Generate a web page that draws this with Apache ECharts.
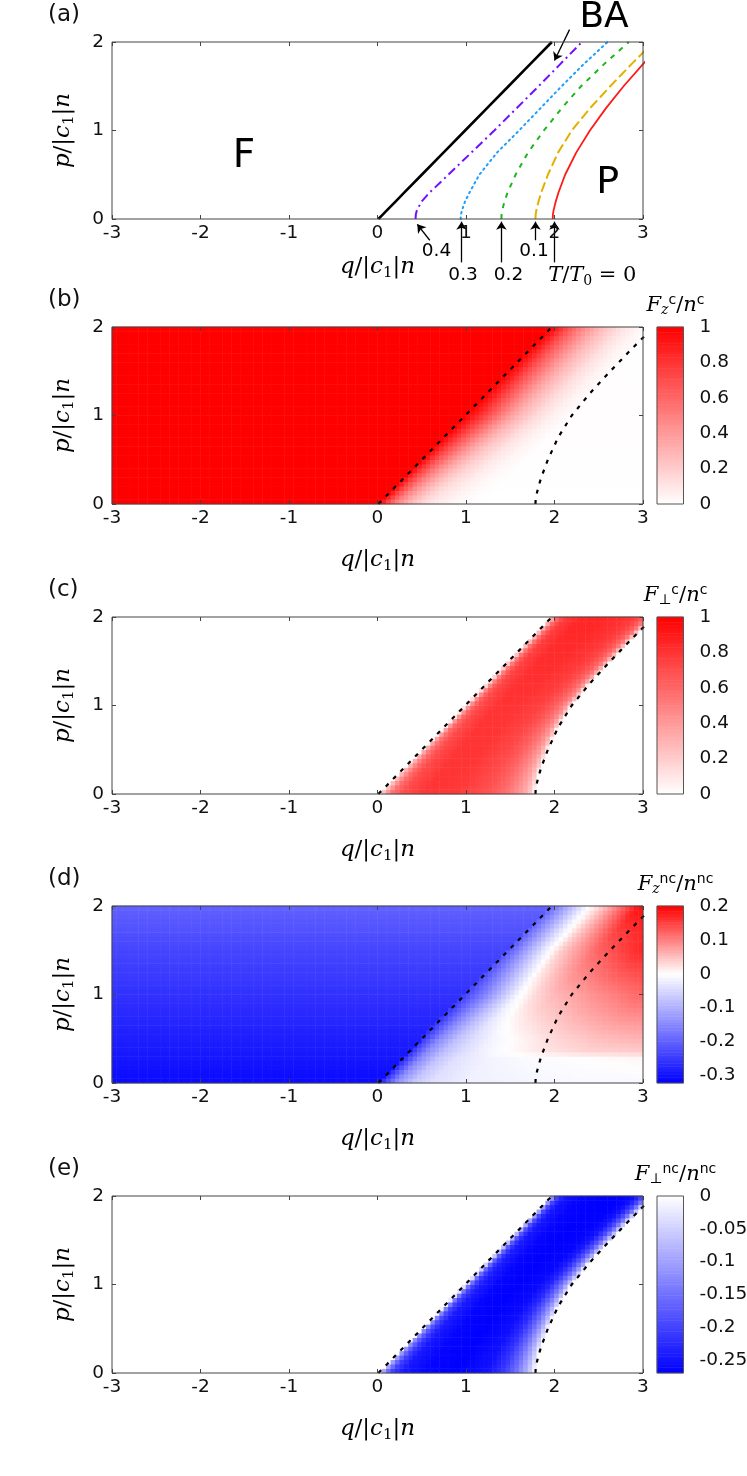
<!DOCTYPE html>
<html>
<head>
<meta charset="utf-8">
<script src="https://cdn.jsdelivr.net/npm/echarts@6/dist/echarts.min.js"></script>
<style>
  html, body { margin: 0; padding: 0; background: #fff; }
  #phaseChart { width: 747px; height: 1476px; }
</style>
</head>
<body>
<div id="phaseChart"></div>
<script>
// ---------------- data ----------------
// p/|c1|n levels where the phase boundaries were read
const pLevels = [0, 0.05, 0.1, 0.2, 0.3, 0.5, 0.75, 1, 1.25, 1.5, 1.75, 2];
// F-BA boundary (black line / left dashed line)
const qFBA    = [0.01, 0.059, 0.108, 0.206, 0.304, 0.50, 0.745, 0.99, 1.235, 1.48, 1.725, 1.97];
// BA-P boundary for T/T0 = 0, 0.1, 0.2, 0.3, 0.4
const qBP_T0  = [1.98, 1.982, 1.99, 2.015, 2.045, 2.12, 2.245, 2.40, 2.58, 2.78, 3.00, 3.23];
const qBP_T01 = [1.785, 1.787, 1.795, 1.82, 1.85, 1.925, 2.04, 2.195, 2.40, 2.63, 2.87, 3.12];
const qBP_T02 = [1.40, 1.402, 1.41, 1.435, 1.47, 1.56, 1.70, 1.88, 2.08, 2.30, 2.56, 2.84];
const qBP_T03 = [0.94, 0.943, 0.955, 0.99, 1.04, 1.15, 1.35, 1.60, 1.84, 2.08, 2.33, 2.60];
const qBP_T04 = [0.43, 0.433, 0.445, 0.50, 0.59, 0.80, 1.06, 1.32, 1.57, 1.82, 2.065, 2.31];

// panel (b): Fz^c/n^c vs distance d = q - qFBA, rows at p
const fzcRowsP = [0, 1, 2];
const fzcCols  = [0, 0.1, 0.2, 0.3, 0.4, 0.5, 0.6, 0.8, 1.0, 1.2];
const fzcF     = [1, 1, 1];
const fzcRows  = [
  [1, 0.70, 0.48, 0.33, 0.22, 0.14, 0.09, 0.04, 0.01, 0],
  [1, 0.90, 0.78, 0.65, 0.52, 0.40, 0.30, 0.15, 0.06, 0.01],
  [1, 0.85, 0.68, 0.55, 0.44, 0.34, 0.25, 0.12, 0.04, 0]
];

// panels (c) and (e): value vs fraction s of the BA band width
const bandRowsP = [0, 1, 2];
const bandCols  = [0, 0.03, 0.08, 0.15, 0.3, 0.5, 0.7, 0.8, 0.88, 0.94, 0.98, 1];
const fpcRows = [
  [0, 0.30, 0.55, 0.70, 0.80, 0.78, 0.68, 0.58, 0.45, 0.33, 0.18, 0],
  [0, 0.35, 0.60, 0.72, 0.80, 0.80, 0.75, 0.68, 0.58, 0.45, 0.25, 0],
  [0, 0.40, 0.65, 0.78, 0.85, 0.85, 0.82, 0.78, 0.70, 0.55, 0.30, 0]
];
const fpncRows = [
  [0, -0.12, -0.20, -0.245, -0.265, -0.27, -0.25, -0.21, -0.15, -0.09, -0.04, 0],
  [0, -0.12, -0.20, -0.24, -0.265, -0.27, -0.26, -0.23, -0.17, -0.11, -0.05, 0],
  [0, -0.14, -0.22, -0.25, -0.265, -0.27, -0.27, -0.26, -0.22, -0.15, -0.07, 0]
];

// panel (d): Fz^nc/n^nc vs distance d = q - qFBA, rows at p
const fzncRowsP = [0, 0.28, 0.36, 0.5, 1, 1.5, 2];
const fzncCols  = [0, 0.2, 0.4, 0.6, 0.8, 1.0, 1.5, 2.0, 2.5, 3.0];
const fzncF     = [-0.31, -0.295, -0.29, -0.285, -0.26, -0.235, -0.20];
const fzncRows  = [
  [-0.29, -0.14, -0.07, -0.04, -0.03, -0.02, -0.015, -0.01, -0.01, -0.01],
  [-0.28, -0.15, -0.075, -0.04, -0.025, -0.015, -0.005, 0.0, 0.005, 0.01],
  [-0.275, -0.15, -0.08, -0.045, -0.02, -0.005, 0.02, 0.035, 0.04, 0.045],
  [-0.26, -0.15, -0.08, -0.04, -0.015, 0.0, 0.03, 0.05, 0.06, 0.065],
  [-0.24, -0.17, -0.09, -0.01, 0.03, 0.055, 0.09, 0.12, 0.13, 0.14],
  [-0.21, -0.12, -0.03, 0.04, 0.08, 0.12, 0.17, 0.19, 0.20, 0.20],
  [-0.19, -0.10, -0.01, 0.05, 0.12, 0.19, 0.20, 0.20, 0.20, 0.20]
];

// colour bar ranges
const cbRanges = [[0, 1], [0, 1], [-0.3225, 0.2], [-0.27, 0]];

// annotation texts of panel (a)
const tempNames = ['0.4', '0.3', '0.2', '0.1'];
const tempNamePos = [[0.667, -0.364], [0.967, -0.635], [1.48, -0.635], [1.768, -0.364]];

// ---------------- helpers ----------------
function interp(xs, ys, x) {
  if (x <= xs[0]) return ys[0];
  for (let k = 1; k < xs.length; k++) {
    if (x <= xs[k]) {
      const t = (x - xs[k - 1]) / (xs[k] - xs[k - 1]);
      return ys[k - 1] + t * (ys[k] - ys[k - 1]);
    }
  }
  return ys[ys.length - 1];
}
function tableAt(rowsP, cols, rows, p, c) {
  const perRow = rows.map(r => interp(cols, r, c));
  return interp(rowsP, perRow, p);
}
const pairs = (qs) => qs.map((q, k) => [q, pLevels[k]]);

// heat map cells, 0.05 wide
const qCells = [];
for (let i = 0; i < 120; i++) qCells.push((-3 + 0.05 * (i + 0.5)).toFixed(3));
const pCells = [];
for (let j = 0; j < 40; j++) pCells.push((0.05 * (j + 0.5)).toFixed(3));

function buildField(spec) {
  const out = [];
  pCells.forEach((ps, j) => {
    const p = +ps;
    const qL = interp(pLevels, qFBA, p);
    const qR = interp(pLevels, qBP_T01, p);
    qCells.forEach((qs, i) => {
      const q = +qs;
      let v;
      if (q < qL) {
        v = spec.fSide ? interp(spec.rowsP, spec.fSide, p) : 0;
      } else {
        const c = spec.byDistance ? q - qL : (q - qL) / (qR - qL);
        v = tableAt(spec.rowsP, spec.cols, spec.rows, p, c);
      }
      out.push([i, j, +v.toFixed(4)]);
    });
  });
  return out;
}

function ramp(stops, n) {
  const out = [];
  for (let k = 0; k < n; k++) {
    const t = k / (n - 1);
    let a = stops[0], b = stops[stops.length - 1];
    for (let s = 1; s < stops.length; s++) {
      if (t <= stops[s][0]) { a = stops[s - 1]; b = stops[s]; break; }
    }
    const f = (t - a[0]) / (b[0] - a[0] || 1);
    const c = a[1].map((x, m) => Math.round(x + f * (b[1][m] - x)));
    out.push('rgb(' + c.join(',') + ')');
  }
  return out;
}
const WHITE = [255, 255, 255], RED = [255, 0, 0], BLUE = [0, 0, 255];
const palettes = [
  ramp([[0, WHITE], [1, RED]], 64),
  ramp([[0, WHITE], [1, RED]], 64),
  ramp([[0, BLUE], [0.3225 / 0.5225, WHITE], [1, RED]], 96),
  ramp([[0, BLUE], [1, WHITE]], 64)
];

// ---------------- layout ----------------
const PLOT_LEFT = 112, PLOT_WIDTH = 531, PLOT_HEIGHT = 177;
const panelTops = [42, 327, 617, 906, 1196];
const CB_LEFT = 657, CB_WIDTH = 26.5;
const sans = 'DejaVu Sans', serif = 'DejaVu Serif';
const ink = '#000';

const mathRich = {
  i: { fontFamily: serif, fontStyle: 'italic', fontSize: 23, lineHeight: 28, color: ink },
  r: { fontFamily: serif, fontSize: 23, lineHeight: 28, color: ink },
  sb: { fontFamily: serif, fontSize: 15, lineHeight: 15, verticalAlign: 'bottom', color: ink }
};
const cbRich = {
  i: { fontFamily: serif, fontStyle: 'italic', fontSize: 21, lineHeight: 24, color: ink },
  r: { fontFamily: serif, fontSize: 21, lineHeight: 24, color: ink },
  sb: { fontFamily: serif, fontStyle: 'italic', fontSize: 14, lineHeight: 12, verticalAlign: 'bottom', color: ink },
  sp: { fontFamily: sans, fontSize: 14, lineHeight: 11, verticalAlign: 'top', color: ink }
};
const qName = '{i|q}{r|/|}{i|c}{sb|1}{r||}{i|n}';
const pName = '{i|p}{r|/|}{i|c}{sb|1}{r||}{i|n}';
const cbNames = [
  '{i|F}{sb|z}{sp|c}{r|/}{i|n}{sp|c}',
  '{i|F}{sb|⊥}{sp|c}{r|/}{i|n}{sp|c}',
  '{i|F}{sb|z}{sp|nc}{r|/}{i|n}{sp|nc}',
  '{i|F}{sb|⊥}{sp|nc}{r|/}{i|n}{sp|nc}'
];
const tickLabel = { fontFamily: sans, fontSize: 18.5, color: '#111' };

const grids = [], xAxes = [], yAxes = [], series = [], visualMaps = [], titles = [];

function addPlotGrid(top, xNameGap) {
  const g = grids.length;
  grids.push({
    left: PLOT_LEFT, top: top, width: PLOT_WIDTH, height: PLOT_HEIGHT,
    show: true, borderColor: '#444', borderWidth: 1, z: 5,
    backgroundColor: 'transparent', containLabel: false, outerBoundsMode: 'none'
  });
  const xi = xAxes.length;
  xAxes.push({
    gridIndex: g, type: 'value', min: -3, max: 3, interval: 1, position: 'bottom', z: 6,
    name: qName, nameLocation: 'middle', nameGap: xNameGap, nameTextStyle: { rich: mathRich },
    axisLine: { show: false, onZero: false },
    axisTick: { inside: true, length: 4, lineStyle: { color: '#444' } },
    axisLabel: Object.assign({ margin: 5 }, tickLabel),
    splitLine: { show: false }
  });
  xAxes.push({
    gridIndex: g, type: 'value', min: -3, max: 3, interval: 1, position: 'top', z: 6,
    axisLine: { show: false, onZero: false },
    axisTick: { inside: true, length: 4, lineStyle: { color: '#444' } },
    axisLabel: { show: false }, splitLine: { show: false }
  });
  const yi = yAxes.length;
  yAxes.push({
    gridIndex: g, type: 'value', min: 0, max: 2, interval: 1, position: 'left', z: 6,
    name: pName, nameLocation: 'middle', nameGap: 35, nameTextStyle: { rich: mathRich },
    axisLine: { show: false, onZero: false },
    axisTick: { inside: true, length: 4, lineStyle: { color: '#444' } },
    axisLabel: Object.assign({ margin: 8 }, tickLabel),
    splitLine: { show: false }
  });
  yAxes.push({
    gridIndex: g, type: 'value', min: 0, max: 2, interval: 1, position: 'right', z: 6,
    axisLine: { show: false, onZero: false },
    axisTick: { inside: true, length: 4, lineStyle: { color: '#444' } },
    axisLabel: { show: false }, splitLine: { show: false }
  });
  return { g: g, x: xi, y: yi };
}

function boundaryLine(ax, qs, style) {
  return {
    type: 'line', xAxisIndex: ax.x, yAxisIndex: ax.y, data: pairs(qs),
    showSymbol: false, symbol: 'none', smooth: false, z: 3, silent: true,
    lineStyle: style
  };
}

// ---------------- panel (a) ----------------
const axA = addPlotGrid(panelTops[0], 34);
titles.push({ text: '(a)', left: 48, top: 4 });
series.push(boundaryLine(axA, qFBA, { color: '#000', width: 2.6, type: 'solid' }));
series.push(boundaryLine(axA, qBP_T0, { color: '#ff1a1a', width: 1.8, type: 'solid' }));
series.push(boundaryLine(axA, qBP_T01, { color: '#e3b000', width: 2, type: [10, 4] }));
series.push(boundaryLine(axA, qBP_T02, { color: '#1fb51f', width: 2, type: [5, 6] }));
series.push(boundaryLine(axA, qBP_T03, { color: '#1e9fff', width: 2, type: [1.5, 4], cap: 'round' }));
series.push(boundaryLine(axA, qBP_T04, { color: '#6f10ff', width: 2, type: [9, 4, 2, 4] }));

const bigLabel = (txt, size) => ({
  formatter: txt, fontSize: size, fontFamily: sans, color: '#000', opacity: 1,
  textBorderWidth: 0, textBorderColor: 'transparent'
});
const annot = [
  { value: [-1.51, 0.70], label: bigLabel('F', 39) },
  { value: [2.6, 0.41], label: bigLabel('P', 38) },
  { value: [2.56, 2.28], label: bigLabel('BA', 36) }
];
tempNames.forEach((t, k) => annot.push({ value: tempNamePos[k], label: bigLabel(t, 18.5) }));
annot.push({
  value: [2.427, -0.635],
  label: {
    formatter: '{i|T}{r|/}{i|T}{sb|0}{r| = 0}',
    color: '#000',
    rich: {
      i: { fontFamily: serif, fontStyle: 'italic', fontSize: 21, lineHeight: 26, color: ink },
      r: { fontFamily: serif, fontSize: 21, lineHeight: 26, color: ink },
      sb: { fontFamily: serif, fontSize: 14, lineHeight: 14, verticalAlign: 'bottom', color: ink }
    }
  }
});
series.push({
  type: 'scatter', xAxisIndex: axA.x, yAxisIndex: axA.y, clip: false, silent: true,
  symbolSize: 1, itemStyle: { color: '#fff', opacity: 1 },
  label: { show: true, position: 'inside', fontFamily: sans, color: '#000' },
  data: annot, z: 4
});
series.push({
  type: 'lines', coordinateSystem: 'cartesian2d', xAxisIndex: axA.x, yAxisIndex: axA.y,
  clip: false, silent: true, symbol: ['none', 'arrow'], symbolSize: 8,
  lineStyle: { color: '#000', width: 1.3, opacity: 1 },
  data: [
    { coords: [[qBP_T04[0] + 0.16, -0.24], [qBP_T04[0] + 0.02, -0.06]] },
    { coords: [[qBP_T03[0] + 0.01, -0.49], [qBP_T03[0] + 0.01, -0.03]] },
    { coords: [[qBP_T02[0], -0.49], [qBP_T02[0], -0.03]] },
    { coords: [[qBP_T01[0], -0.24], [qBP_T01[0], -0.03]] },
    { coords: [[qBP_T0[0] + 0.02, -0.49], [qBP_T0[0] + 0.02, -0.03]] },
    { coords: [[2.17, 2.14], [2.0, 1.79]] }
  ],
  z: 4
});

// ---------------- panels (b)-(e) ----------------
const fields = [
  buildField({ byDistance: true, rowsP: fzcRowsP, cols: fzcCols, rows: fzcRows, fSide: fzcF }),
  buildField({ byDistance: false, rowsP: bandRowsP, cols: bandCols, rows: fpcRows }),
  buildField({ byDistance: true, rowsP: fzncRowsP, cols: fzncCols, rows: fzncRows, fSide: fzncF }),
  buildField({ byDistance: false, rowsP: bandRowsP, cols: bandCols, rows: fpncRows })
];
const panelLetters = ['(b)', '(c)', '(d)', '(e)'];
const dashStyle = { color: '#000', width: 2.2, type: [4, 6.5] };

fields.forEach((field, k) => {
  const top = panelTops[k + 1];
  const ax = addPlotGrid(top, 42);
  titles.push({ text: panelLetters[k], left: 48, top: top - 38 });

  // hidden category axes carrying the cells
  const cx = xAxes.length;
  xAxes.push({ gridIndex: ax.g, type: 'category', data: qCells, show: false, position: 'bottom' });
  const cy = yAxes.length;
  yAxes.push({ gridIndex: ax.g, type: 'category', data: pCells, show: false, position: 'left' });

  const heatIdx = series.length;
  series.push({
    type: 'heatmap', xAxisIndex: cx, yAxisIndex: cy, data: field,
    progressive: 0, silent: true, emphasis: { disabled: true }, z: 2
  });
  series.push(boundaryLine(ax, qFBA, dashStyle));
  series.push(boundaryLine(ax, qBP_T01, dashStyle));

  // colour bar
  const [vmin, vmax] = cbRanges[k];
  const cg = grids.length;
  grids.push({
    left: CB_LEFT, top: top, width: CB_WIDTH, height: PLOT_HEIGHT,
    show: true, borderColor: '#555', borderWidth: 1, z: 5,
    backgroundColor: 'transparent', containLabel: false, outerBoundsMode: 'none'
  });
  const levels = [], cbData = [];
  const N = 64;
  for (let m = 0; m < N; m++) {
    levels.push(m);
    cbData.push([0, m, vmin + (m + 0.5) * (vmax - vmin) / N]);
  }
  const cbx = xAxes.length;
  xAxes.push({ gridIndex: cg, type: 'category', data: [''], show: false });
  const cby = yAxes.length;
  yAxes.push({ gridIndex: cg, type: 'category', data: levels, show: false, position: 'left' });
  yAxes.push({
    gridIndex: cg, type: 'value', min: vmin, max: vmax, position: 'right', z: 6,
    name: cbNames[k], nameLocation: 'end', nameGap: 7,
    nameTextStyle: { rich: cbRich, padding: [0, 16, 0, 0] },
    axisLine: { show: false, onZero: false },
    axisTick: { inside: true, length: 4, lineStyle: { color: '#444' } },
    axisLabel: Object.assign({ margin: 16, showMinLabel: vmin === 0 }, tickLabel),
    splitLine: { show: false }
  });
  yAxes.push({
    gridIndex: cg, type: 'value', min: vmin, max: vmax, position: 'left', z: 6,
    axisLine: { show: false, onZero: false },
    axisTick: { inside: true, length: 4, lineStyle: { color: '#444' } },
    axisLabel: { show: false }, splitLine: { show: false }
  });
  const cbIdx = series.length;
  series.push({
    type: 'heatmap', xAxisIndex: cbx, yAxisIndex: cby, data: cbData,
    progressive: 0, silent: true, emphasis: { disabled: true }, z: 2
  });

  visualMaps.push({
    type: 'continuous', show: false, dimension: 2,
    seriesIndex: [heatIdx, cbIdx], min: vmin, max: vmax,
    inRange: { color: palettes[k] }
  });
});

titles.forEach(t => {
  t.padding = 0;
  t.textStyle = { fontFamily: sans, fontSize: 23, fontWeight: 'normal', color: '#111' };
});

const chart = echarts.init(document.getElementById('phaseChart'));
chart.setOption({
  animation: false,
  backgroundColor: '#fff',
  title: titles,
  grid: grids,
  xAxis: xAxes,
  yAxis: yAxes,
  visualMap: visualMaps,
  series: series
});
</script>
</body>
</html>
